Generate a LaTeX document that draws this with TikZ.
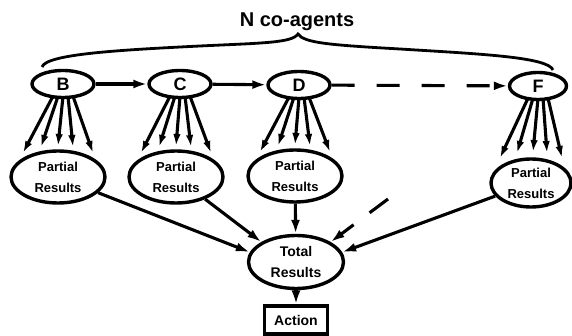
\documentclass[tikz,border=0pt]{standalone}
\usepackage{fontspec}
\setmainfont{Liberation Sans}
\usetikzlibrary{shapes.geometric,arrows.meta,calc}

\begin{document}
\begin{tikzpicture}[x=1pt,y=-1pt,
  line width=3.1pt,
  agent/.style={ellipse,draw,line width=3.4pt,minimum width=62pt,minimum height=27pt,
    inner sep=0pt,font=\fontsize{18}{18}\selectfont\bfseries},
  result/.style={ellipse,draw,line width=3.4pt,minimum width=94pt,minimum height=52pt,
    inner sep=0pt,align=center,font=\fontsize{13}{21}\selectfont\bfseries},
  actionbox/.style={draw,line width=3.2pt,minimum width=63pt,minimum height=28pt,
    inner sep=0pt,font=\fontsize{14}{14}\selectfont\bfseries},
  bigtip/.style={-{Latex[length=14pt,width=9pt]}},
  fantip/.style={-{Latex[length=12pt,width=7.5pt]}},
  dashline/.style={dash pattern=on 23pt off 22pt}
]
\useasboundingbox (0,0) rectangle (572,336);

% title and brace over the co-agents
\node[font=\fontsize{20}{20}\selectfont\bfseries] (title) at (297,22) {N co-agents};
\draw[line width=2.8pt]
  (42,67) .. controls (46,54) and (120,50) .. (200,46)
          .. controls (262,43) and (292,43) .. (298,34)
          .. controls (304,43) and (330,45) .. (400,49)
          .. controls (480,54) and (548,57) .. (553,70);

% co-agents
\node[agent] (B) at (63,84) {B};
\node[agent] (C) at (180,84) {C};
\node[agent] (D) at (299,85) {D};
\node[agent,minimum width=57pt] (F) at (538,86) {F};

% partial results
\node[result] (PB) at (58,177) {Partial\\Results};
\node[result] (PC) at (176,177) {Partial\\Results};
\node[result] (PD) at (295,176) {Partial\\Results};
\node[result,minimum width=80pt,minimum height=48pt] (PF) at (531,183) {Partial\\Results};

% combined results and action
\node[result,minimum width=95pt,minimum height=53pt,font=\fontsize{14}{21}\selectfont\bfseries]
  (T) at (296,262) {Total\\Results};
\node[actionbox] (A) at (296,320) {Action};

% chain of co-agents
\draw[bigtip] (B) -- (C);
\draw[bigtip] (C) -- (D);
\draw[bigtip,dashline] (D) -- (F);

% fans of sub-tasks
\foreach \ag/\pr in {B/PB,C/PC,D/PD}{
  \foreach \s/\ex/\ey in {-10/-35/-24,-5/-17/-30,0/0/-31,5/15/-30,10/35/-24}{
    \draw[fantip] ($(\ag.south)+(\s,-3)$) -- ($(\pr.center)+(\ex,\ey)$);
  }
}
\foreach \s/\ex/\ey in {-10/-31/-25,-5/-14/-30,0/2/-31,5/16/-30,10/31/-25}{
  \draw[fantip] ($(F.south)+(\s,-3)$) -- ($(PF.center)+(\ex,\ey)$);
}

% results flowing into the total
\draw[bigtip] (PB) -- (T.168);
\draw[bigtip] (PC) -- (T.150);
\draw[bigtip] (PD) -- (T);
\draw[bigtip] (PF) -- (T.12);
\coordinate (more) at (388,199);
\draw[bigtip,dash pattern=on 23pt off 20pt] (more) -- (T.30);
\draw[bigtip] (T) -- (A);
\end{tikzpicture}
\end{document}
